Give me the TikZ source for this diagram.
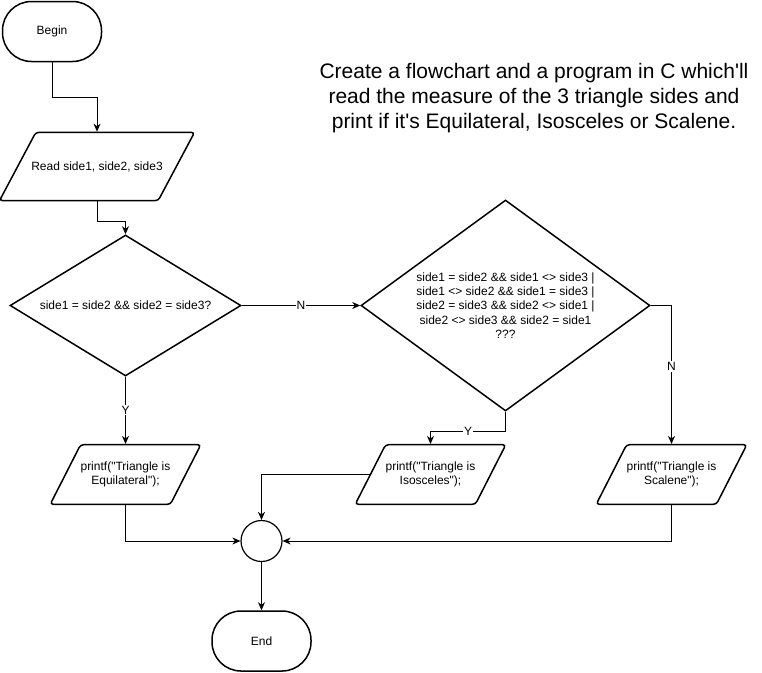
\documentclass[tikz,border=0pt]{standalone}
\usepackage{fontspec}
\setmainfont{Liberation Sans}[Ligatures=TeXOff]
\usepackage{tikz}
\usetikzlibrary{shapes, arrows.meta}
\tikzstyle{terminal} = [rectangle, draw, rounded corners=29pt,
    minimum width=99pt, minimum height=60pt, line width=1.5pt]
\tikzstyle{io} = [trapezium, draw, trapezium left angle=63,
    trapezium right angle=117, align=center, inner xsep=0pt,
    inner ysep=17pt, rounded corners=3pt, line width=1.5pt]
\tikzstyle{decision} = [diamond, draw, align=center, inner sep=0pt, line width=1.5pt]
\tikzstyle{line} = [draw, line width=0.9pt, -{Stealth[length=8pt, width=7pt, inset=2.5pt]}]

\begin{document}
\begin{tikzpicture}[x=1pt, y=-1pt,
    every node/.style={font=\fontsize{12}{14.4}\selectfont},
    lbl/.style={fill=white, inner sep=1pt, anchor=center},
    junction/.style={circle, draw, minimum size=41pt, inner sep=0pt, line width=1.2pt}
    ]
    \useasboundingbox (0,0) rectangle (762,672);

    \node[terminal] (begin) at (52,31.5) {Begin};
    \node[io, below of=begin, node distance=135pt, xshift=45pt,
          trapezium left angle=62, trapezium right angle=118,
          inner xsep=-4.5pt, inner ysep=29pt] (read) {Read side1, side2, side3};
    \node[decision, below of=read, node distance=139pt, xshift=28.5pt,
          minimum width=231pt, minimum height=141pt, shape aspect=1.64] (equal)
          {side1 = side2 \&\& side2 = side3?};
    \node[decision, right of=equal, node distance=380pt,
          minimum width=289pt, minimum height=211pt, shape aspect=1.37] (twoEqual)
          {side1 = side2 \&\& side1 <> side3 |\\
           side1 <> side2 \&\& side1 = side3 |\\
           side2 = side3 \&\& side2 <> side1 |\\
           side2 <> side3 \&\& side2 = side1\\
           ???};

    \node[io, below of=equal, node distance=169pt] (equi)
          {printf("Triangle is\\Equilateral");};
    \node[io, right of=equi, node distance=305pt] (isos)
          {printf("Triangle is\\Isosceles");};
    \node[io, right of=isos, node distance=241pt] (scal)
          {printf("Triangle is\\Scalene");};

    \node[junction] (join) at (261.5,541) {};
    \node[terminal, below of=join, node distance=100pt] (end) {End};

    \node[font=\fontsize{21}{25}\selectfont, align=center] (task) at (534,98)
          {Create a flowchart and a program in C which'll\\
           read the measure of the 3 triangle sides and\\
           print if it's Equilateral, Isosceles or Scalene.};

    % connectors
    \draw[line] (begin.south) -- ++(0,35) -| (read.north);
    \draw[line] (read.south) -- ++(0,20) -| (equal.north);
    \draw[line] (equal.east) -- node[lbl, pos=0.5]{N} (twoEqual.west);
    \draw[line] (equal.south) -- node[lbl]{Y} (equi.north);
    \draw[line] (twoEqual.south) -- ++(0,20) -| node[lbl, pos=0.25]{Y} (isos.north);
    \draw[line] (twoEqual.east) -- ++(21,0) -| node[lbl, pos=0.72]{N} (scal.north);
    \draw[line] (equi.south) |- (join.west);
    \draw[line] (scal.south) |- (join.east);
    \draw[line] (isos.west) -| (join.north);
    \draw[line] (join.south) -- (end.north);
\end{tikzpicture}
\end{document}
